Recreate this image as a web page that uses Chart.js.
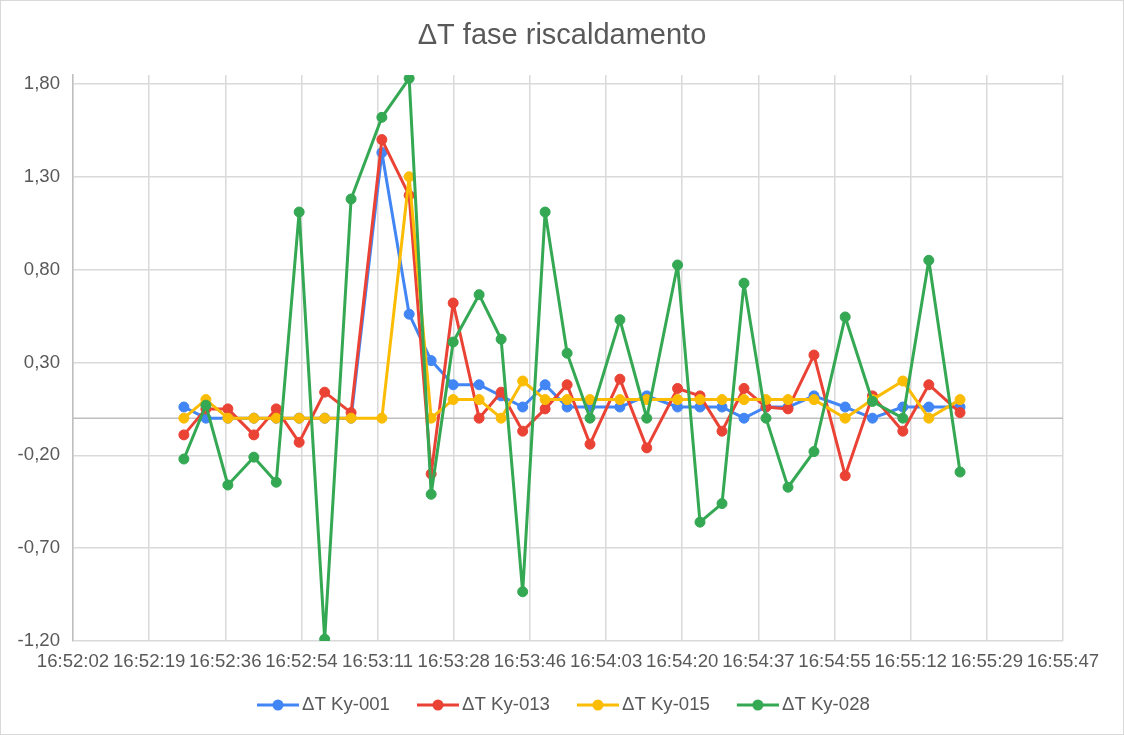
<!DOCTYPE html>
<html>
<head>
<meta charset="utf-8">
<script src="https://cdn.jsdelivr.net/npm/chart.js@4.4.1/dist/chart.umd.min.js"></script>
<style>
  html, body { margin: 0; padding: 0; background: #ffffff; }
  canvas { display: block; }
</style>
</head>
<body>
<canvas id="chart" width="1124" height="735"></canvas>
<script>
// ---------------- data ----------------
const chartTitle = 'ΔT fase riscaldamento';
const seriesNames = ['ΔT Ky-001', 'ΔT Ky-013', 'ΔT Ky-015', 'ΔT Ky-028'];
const seriesColors = ['#4285F4', '#EA4335', '#FBBC04', '#34A853'];

// sample instants, seconds after 16:52:00
const sampleSeconds = [27.4, 32.4, 37.4, 43.3, 48.4, 53.6, 59.4, 65.4, 72.4, 78.6, 83.6, 88.6,
  94.5, 99.5, 104.4, 109.5, 114.5, 119.7, 126.5, 132.6, 139.6, 144.7, 149.7, 154.7,
  159.7, 164.7, 170.6, 177.7, 183.9, 190.8, 196.7, 203.8];

const ky001 = [0.06, 0, 0, 0, 0, 0, 0, 0, 1.43, 0.56, 0.31, 0.18, 0.18, 0.12, 0.06, 0.18,
  0.06, 0.06, 0.06, 0.12, 0.06, 0.06, 0.06, 0, 0.06, 0.06, 0.12, 0.06, 0, 0.06, 0.06, 0.06];
const ky013 = [-0.09, 0.05, 0.05, -0.09, 0.05, -0.13, 0.14, 0.03, 1.50, 1.20, -0.30, 0.62,
  0, 0.14, -0.07, 0.05, 0.18, -0.14, 0.21, -0.16, 0.16, 0.12, -0.07, 0.16,
  0.06, 0.05, 0.34, -0.31, 0.12, -0.07, 0.18, 0.03];
const ky015 = [0, 0.10, 0, 0, 0, 0, 0, 0, 0, 1.30, 0, 0.10, 0.10, 0, 0.20, 0.10,
  0.10, 0.10, 0.10, 0.10, 0.10, 0.10, 0.10, 0.10, 0.10, 0.10, 0.10, 0, 0.10, 0.20, 0, 0.10];
const ky028 = [-0.22, 0.07, -0.36, -0.21, -0.345, 1.11, -1.19, 1.18, 1.62, 1.83, -0.41, 0.41,
  0.665, 0.425, -0.935, 1.11, 0.35, 0, 0.53, 0, 0.825, -0.56, -0.46, 0.727,
  0, -0.372, -0.18, 0.545, 0.09, 0, 0.85, -0.29];

const seriesValues = [ky001, ky013, ky015, ky028];

const xTickLabels = ['16:52:02', '16:52:19', '16:52:36', '16:52:54', '16:53:11', '16:53:28', '16:53:46',
  '16:54:03', '16:54:20', '16:54:37', '16:54:55', '16:55:12', '16:55:29', '16:55:47'];
const xAxisStart = 2.2;     // seconds after 16:52:00
const xAxisEnd = 227.2;

const yTickValues = [-1.2, -0.7, -0.2, 0.3, 0.8, 1.3, 1.8];
const yTickLabels = ['-1,20', '-0,70', '-0,20', '0,30', '0,80', '1,30', '1,80'];
const yAxisMin = -1.2;
const yAxisMax = 1.848;

// ---------------- styling ----------------
const FONT = "'Liberation Sans', Arial, sans-serif";
const TEXT = '#595959';
const GRID = '#d9d9d9';
const AXIS = '#bfbfbf';

function legendSwatch(color) {
  const c = document.createElement('canvas');
  c.width = 51; c.height = 14;
  const g = c.getContext('2d');
  g.strokeStyle = color; g.lineWidth = 3;
  g.beginPath(); g.moveTo(9, 7); g.lineTo(51, 7); g.stroke();
  g.fillStyle = color;
  g.beginPath(); g.arc(30, 7, 5.5, 0, Math.PI * 2); g.fill();
  return c;
}
const swatches = seriesColors.map(legendSwatch);

const framePlugin = {
  id: 'frame',
  beforeDraw(chart) {
    const c = chart.ctx;
    c.save(); c.fillStyle = '#ffffff'; c.fillRect(0, 0, chart.width, chart.height); c.restore();
  },
  afterDraw(chart) {
    const c = chart.ctx;
    c.save(); c.strokeStyle = GRID; c.lineWidth = 1;
    c.strokeRect(0.5, 0.5, chart.width - 1, chart.height - 1); c.restore();
  }
};

const zeroLinePlugin = {
  id: 'zeroLine',
  beforeDatasetsDraw(chart) {
    const y = chart.scales.y.getPixelForValue(0);
    const a = chart.chartArea;
    const c = chart.ctx;
    c.save(); c.strokeStyle = AXIS; c.lineWidth = 1.5;
    c.beginPath(); c.moveTo(a.left, y); c.lineTo(a.right, y); c.stroke(); c.restore();
  }
};

const datasets = seriesValues.map((vals, i) => ({
  label: seriesNames[i],
  data: vals.map((v, k) => ({ x: sampleSeconds[k], y: v })),
  showLine: true,
  borderColor: seriesColors[i],
  backgroundColor: seriesColors[i],
  pointBackgroundColor: seriesColors[i],
  pointBorderColor: seriesColors[i],
  borderWidth: 3,
  borderJoinStyle: 'round',
  borderCapStyle: 'round',
  pointRadius: 5,
  pointBorderWidth: 1,
  pointHoverRadius: 5,
  tension: 0,
  order: seriesValues.length - i
}));

new Chart(document.getElementById('chart'), {
  type: 'scatter',
  data: { datasets },
  options: {
    responsive: false,
    animation: false,
    devicePixelRatio: 1,
    events: [],
    layout: { padding: { top: 10, bottom: 10.7, left: 10, right: 10 } },
    plugins: {
      title: {
        display: true, text: chartTitle, color: TEXT,
        font: { family: FONT, size: 29, weight: 'normal' },
        padding: { top: 8.6, bottom: 21.6 }
      },
      legend: {
        position: 'bottom',
        labels: {
          usePointStyle: true,
          pointStyleWidth: 38.6,
          padding: 24.2,
          color: TEXT,
          font: { family: FONT, size: 18.6 },
          sort: (a, b) => a.datasetIndex - b.datasetIndex,
          generateLabels: (chart) => Chart.defaults.plugins.legend.labels.generateLabels(chart)
            .map(it => Object.assign(it, { pointStyle: swatches[it.datasetIndex] }))
        }
      },
      tooltip: { enabled: false }
    },
    scales: {
      x: {
        type: 'linear',
        min: xAxisStart, max: xAxisEnd,
        afterBuildTicks: (s) => {
          const n = xTickLabels.length;
          s.ticks = xTickLabels.map((_, i) => ({ value: i === n - 1 ? xAxisEnd : xAxisStart + i * (xAxisEnd - xAxisStart) / (n - 1) }));
        },
        afterFit: (s) => { s.height = 30.5; s.paddingLeft = 0; s.paddingRight = 61; },
        ticks: {
          autoSkip: false, maxRotation: 0, minRotation: 0, padding: 10,
          color: TEXT, font: { family: FONT, size: 18.6 },
          callback: (v, i) => xTickLabels[i]
        },
        grid: { color: GRID, lineWidth: 1.5, drawTicks: false },
        border: { display: false }
      },
      y: {
        type: 'linear',
        min: yAxisMin, max: yAxisMax,
        afterBuildTicks: (s) => { s.ticks = yTickValues.map(v => ({ value: v })); },
        afterFit: (s) => { s.width = 63; },
        ticks: {
          autoSkip: false, padding: 13,
          color: TEXT, font: { family: FONT, size: 18.6 },
          callback: (v, i) => yTickLabels[i]
        },
        grid: { color: GRID, lineWidth: 1.5, drawTicks: false },
        border: { display: true, color: AXIS, width: 1.5 }
      }
    }
  },
  plugins: [framePlugin, zeroLinePlugin]
});
</script>
</body>
</html>
